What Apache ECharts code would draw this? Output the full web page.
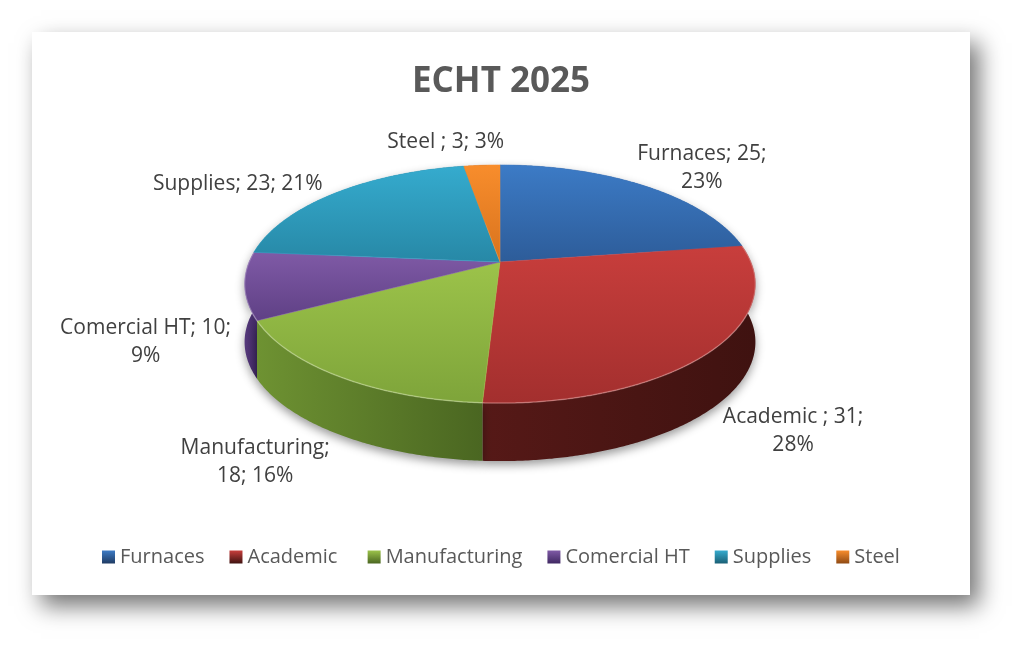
<!DOCTYPE html>
<html>
<head>
<meta charset="utf-8">
<title>ECHT 2025</title>
<script src="https://cdn.jsdelivr.net/npm/echarts@6/dist/echarts.min.js"></script>
<style>
  html, body { margin: 0; padding: 0; background: #fff; }
  #chart { width: 1035px; height: 660px; }
</style>
</head>
<body>
<div id="chart"></div>
<script>
// data
var categories = ['Furnaces', 'Academic ', 'Manufacturing', 'Comercial HT', 'Supplies', 'Steel '];
var values = [25, 31, 18, 10, 23, 3];
// where the data label wraps: 0 = one line, 1 = after the name, 2 = before the percent
var labelBreaks = [2, 2, 1, 2, 0, 0];

// colours (top face light/dark, wall light/dark)
var topColors = [
    ['#3c7bc6', '#2d5c99'],
    ['#c83e3c', '#a32f2e'],
    ['#9cc34a', '#7ea43a'],
    ['#7f5aa6', '#5f4085'],
    ['#35abce', '#2788a6'],
    ['#f88d2c', '#d8731e']
];
var wallColors = [
    ['#2b4f80', '#1f3b63'],
    ['#561917', '#3f1210'],
    ['#6e9232', '#4a6621'],
    ['#56397c', '#3f2862'],
    ['#227a95', '#1a5f75'],
    ['#b8611c', '#8f4a14']
];

// 3d pie geometry (screen px)
var CX = 500, CY = 262, RX = 251, RY = 115, K = 0.185, DEPTH = 58;
var FONT = '"Open Sans", sans-serif';
var LABEL_SIZE = 21, LINE_H = 28;

var total = values.reduce(function (a, b) { return a + b; }, 0);
var starts = [];
var acc = 0;
for (var i = 0; i < values.length; i++) {
    starts.push(acc / total * Math.PI * 2);
    acc += values[i];
}

function proj(theta, dy) {
    var u = Math.sin(theta), v = -Math.cos(theta);
    var s = 1 / (1 - K * v);
    return [CX + RX * u * s, CY + RY * v * s + (dy || 0)];
}

function labelText(i) {
    var pct = Math.round(values[i] / total * 100) + '%';
    var name = categories[i] + ';';
    if (labelBreaks[i] == 1) return name + '\n' + values[i] + '; ' + pct;
    if (labelBreaks[i] == 2) return name + ' ' + values[i] + ';\n' + pct;
    return name + ' ' + values[i] + '; ' + pct;
}

var measureCtx = document.createElement('canvas').getContext('2d');
function textWidth(str) {
    measureCtx.font = LABEL_SIZE + 'px ' + FONT;
    return Math.max.apply(null, str.split('\n').map(function (l) {
        return measureCtx.measureText(l).width;
    }));
}

function renderSlice(params, api) {
    var idx = params.dataIndex;
    var a = starts[idx];
    var b = a + api.value(1) / total * Math.PI * 2;
    var step = Math.PI / 360;
    var n = Math.max(2, Math.ceil((b - a) / step));
    var rimTop = [], rimBot = [];
    var maxV = -1;
    for (var j = 0; j <= n; j++) {
        var t = a + (b - a) * j / n;
        rimTop.push(proj(t, 0));
        rimBot.push(proj(t, DEPTH));
        maxV = Math.max(maxV, -Math.cos(t));
    }
    var children = [];

    // outer wall
    children.push({
        type: 'polygon',
        z2: 10 + Math.round(maxV * 10),
        shape: { points: rimTop.concat(rimBot.slice().reverse()) },
        style: {
            fill: new echarts.graphic.LinearGradient(0, 0, 1, 0, [
                { offset: 0, color: wallColors[idx][0] },
                { offset: 1, color: wallColors[idx][1] }
            ]),
            shadowBlur: 10,
            shadowOffsetY: 4,
            shadowColor: 'rgba(0,0,0,0.4)'
        }
    });

    // top face
    children.push({
        type: 'polygon',
        z2: 50,
        shape: { points: [[CX, CY]].concat(rimTop) },
        style: {
            fill: new echarts.graphic.LinearGradient(0, 0, 0, 1, [
                { offset: 0, color: topColors[idx][0] },
                { offset: 1, color: topColors[idx][1] }
            ]),
            stroke: topColors[idx][0],
            lineWidth: 0.5
        }
    });

    // light bevel on the front rim
    if (maxV > 0) {
        children.push({
            type: 'polyline',
            z2: 60,
            shape: { points: rimTop },
            style: { stroke: 'rgba(255,255,255,0.25)', lineWidth: 1.5, fill: null }
        });
    }

    // data label, pushed out from the outer edge of the slice
    var m = (a + b) / 2;
    var vm = -Math.cos(m);
    var p = proj(m, DEPTH * Math.min(1, Math.max(0, vm * 4)));
    var dx = p[0] - CX, dy = p[1] - CY;
    var len = Math.sqrt(dx * dx + dy * dy);
    dx /= len; dy /= len;
    var txt = labelText(idx);
    var w = textWidth(txt);
    var h = txt.split('\n').length * LINE_H;
    var fx = (dx < 0 ? -1 : 1) * Math.min(1, Math.abs(dx) * 1.5) - (dy < 0 ? 0.3 : 0);
    fx = Math.max(-1, Math.min(1, fx));
    children.push({
        type: 'text',
        z2: 100,
        x: p[0] + dx * 14 + fx * w / 2,
        y: p[1] + dy * 10 + dy * h / 2,
        style: {
            text: txt,
            align: 'center',
            verticalAlign: 'middle',
            fontFamily: FONT,
            fontSize: LABEL_SIZE,
            lineHeight: LINE_H,
            fill: '#404040'
        }
    });

    return { type: 'group', children: children };
}

var chart = echarts.init(document.getElementById('chart'));

var option = {
    backgroundColor: '#fff',
    animation: false,
    title: {
        text: 'ECHT 2025',
        left: 496,
        top: 60,
        textAlign: 'center',
        textStyle: {
            fontFamily: FONT,
            fontSize: 35,
            fontWeight: 'bold',
            color: '#595959'
        }
    },
    legend: {
        left: 102,
        top: 547,
        padding: 0,
        icon: 'rect',
        itemWidth: 13,
        itemHeight: 13,
        itemGap: 25,
        textStyle: {
            fontFamily: FONT,
            fontSize: 20,
            color: '#595959'
        },
        data: categories
    },
    graphic: [{
        type: 'rect',
        z: -10,
        shape: { x: 32, y: 32, width: 938, height: 563 },
        style: {
            fill: '#fff',
            shadowBlur: 22,
            shadowOffsetX: 9,
            shadowOffsetY: 11,
            shadowColor: 'rgba(0,0,0,0.55)'
        }
    }],
    series: [
        {
            // carries names and colours for the legend
            type: 'pie',
            radius: 0,
            center: [-50, -50],
            silent: true,
            label: { show: false },
            labelLine: { show: false },
            data: categories.map(function (c, i) {
                return {
                    name: c,
                    value: values[i],
                    itemStyle: {
                        color: new echarts.graphic.LinearGradient(0, 0, 0, 1, [
                            { offset: 0, color: topColors[i][0] },
                            { offset: 1, color: wallColors[i][1] }
                        ])
                    }
                };
            })
        },
        {
            type: 'custom',
            coordinateSystem: 'none',
            silent: true,
            renderItem: renderSlice,
            data: values.map(function (v, i) { return [i, v]; })
        }
    ]
};

chart.setOption(option);
</script>
</body>
</html>
